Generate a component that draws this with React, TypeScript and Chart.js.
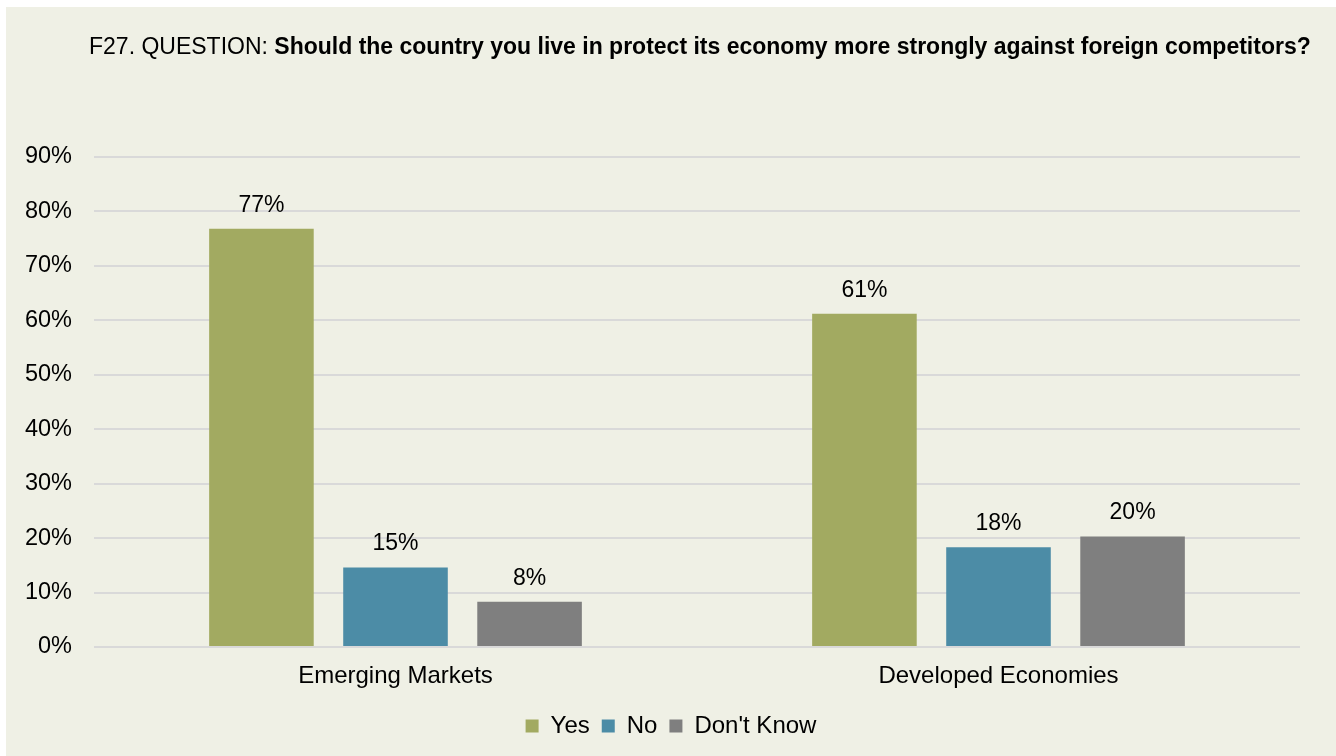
import React, { useEffect, useRef } from "react";
import { Chart, registerables } from "chart.js";

Chart.register(...registerables);

const categories = ["Emerging Markets", "Developed Economies"];
const seriesNames = ["Yes", "No", "Don't Know"];
const yesValues = [76.8, 61.2];
const noValues = [14.6, 18.3];
const dontKnowValues = [8.3, 20.3];
const yTicks = [0, 10, 20, 30, 40, 50, 60, 70, 80, 90];
const titlePrefix = "F27. QUESTION: ";
const titleQuestion = "Should the country you live in protect its economy more strongly against foreign competitors?";

const FONT = "'Liberation Sans', Arial, sans-serif";
const COLORS = ["#A2AA61", "#4C8CA6", "#7F7F7F"];

const titlePlugin = {
  id: "mixedTitle",
  beforeDraw(chart: any) {
    const ctx = chart.ctx;
    ctx.save();
    ctx.textBaseline = "middle";
    ctx.textAlign = "left";
    ctx.fillStyle = "#000000";
    ctx.font = `23px ${FONT}`;
    const x0 = 83;
    const y0 = 41;
    ctx.fillText(titlePrefix, x0, y0);
    const w = ctx.measureText(titlePrefix).width;
    ctx.font = `bold 23px ${FONT}`;
    ctx.fillText(titleQuestion, x0 + w, y0);
    ctx.restore();
  },
};

const labelPlugin = {
  id: "barLabels",
  afterDatasetsDraw(chart: any) {
    const ctx = chart.ctx;
    ctx.save();
    ctx.font = `23px ${FONT}`;
    ctx.fillStyle = "#000000";
    ctx.textAlign = "center";
    ctx.textBaseline = "bottom";
    chart.data.datasets.forEach((ds: any, di: number) => {
      const meta = chart.getDatasetMeta(di);
      meta.data.forEach((el: any, i: number) => {
        const v = ds.data[i];
        ctx.fillText(`${Math.round(v)}%`, el.x, el.y - 12);
      });
    });
    ctx.restore();
  },
};

export default function App() {
  const ref = useRef<HTMLCanvasElement | null>(null);

  useEffect(() => {
    if (!ref.current) return;
    const chart = new Chart(ref.current, {
      type: "bar",
      data: {
        labels: categories,
        datasets: [
          { label: seriesNames[0], data: yesValues, backgroundColor: COLORS[0] },
          { label: seriesNames[1], data: noValues, backgroundColor: COLORS[1] },
          { label: seriesNames[2], data: dontKnowValues, backgroundColor: COLORS[2] },
        ],
      },
      options: {
        responsive: false,
        animation: false,
        layout: { padding: { top: 150, right: 0, bottom: 8, left: 0 } },
        datasets: {
          bar: { categoryPercentage: 0.667, barPercentage: 0.78 },
        },
        scales: {
          x: {
            grid: { display: false, drawTicks: false },
            border: { display: false },
            ticks: { color: "#000", font: { family: FONT, size: 24 }, padding: 15 },
            afterFit: (s: any) => {
              s.height = 55;
            },
          },
          y: {
            min: 0,
            max: 90,
            afterBuildTicks: (s: any) => {
              s.ticks = yTicks.map((v) => ({ value: v }));
            },
            grid: { color: "#D9D9D9", lineWidth: 2, drawTicks: false },
            border: { display: false },
            ticks: {
              color: "#000",
              font: { family: FONT, size: 23.5 },
              padding: 22,
              callback: (v: any) => `${v}%`,
            },
            afterFit: (s: any) => {
              s.width = 88;
            },
          },
          spacer: {
            type: "linear",
            position: "right",
            min: 0,
            max: 90,
            grid: { display: false, drawTicks: false },
            border: { display: false },
            ticks: { display: false },
            afterFit: (s: any) => {
              s.width = 36;
            },
          },
        },
        plugins: {
          title: { display: false },
          tooltip: { enabled: false },
          legend: {
            position: "bottom",
            labels: {
              color: "#000",
              font: { family: FONT, size: 24 },
              boxWidth: 13,
              boxHeight: 13,
              padding: 12,
            },
          },
        },
      },
      plugins: [titlePlugin, labelPlugin],
    });
    return () => chart.destroy();
  }, []);

  return (
    <div
      style={{
        position: "fixed",
        left: 6,
        top: 7,
        width: 1330,
        height: 749,
        background: "#EFF0E5",
      }}
    >
      <canvas ref={ref} width={1330} height={749} />
    </div>
  );
}
